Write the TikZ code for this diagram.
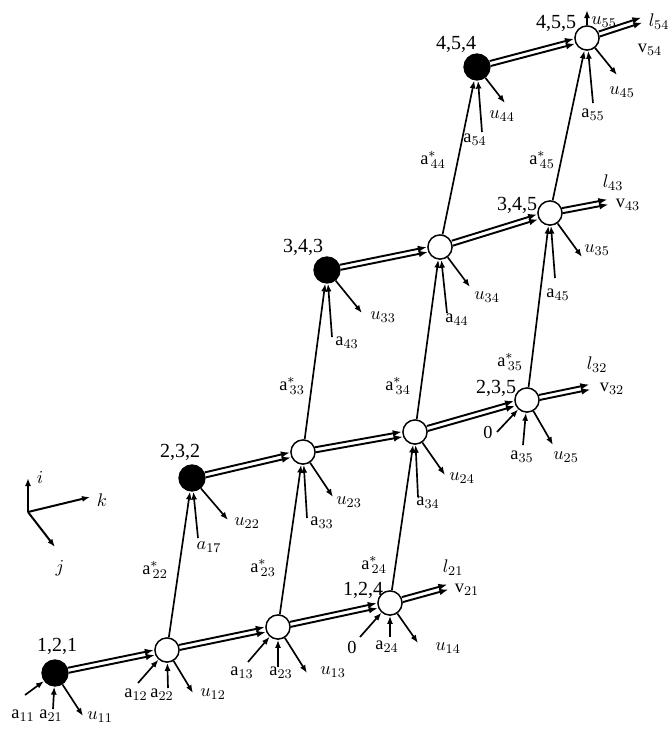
\documentclass[tikz,border=0pt]{standalone}
\usepackage{fontspec}
\setmainfont{Liberation Serif}
\usetikzlibrary{arrows.meta,positioning}

\begin{document}
\begin{tikzpicture}[
  x=0.6pt,y=-0.6pt,
  font=\fontsize{11}{13}\selectfont,
  state/.style={circle,draw,line width=0.9pt,fill=white,minimum size=14.5pt,inner sep=0pt},
  seed/.style={state,fill=black,minimum size=15.5pt},
  arr/.style={-{Latex[length=4.8pt,width=3.6pt]},line width=1pt},
  flow/.style={-{Latex[length=5.5pt,width=4pt]},line width=1.15pt},
  hi/.style={transform canvas={shift={(-0.3pt,1.5pt)}}},
  lo/.style={transform canvas={shift={(0.3pt,-1.5pt)}}},
  lab/.style={inner sep=0.5pt},
  tag/.style={inner sep=0.5pt,font=\fontsize{12}{14}\selectfont}
]
\useasboundingbox (0,0) rectangle (668,731);
% axes
\coordinate (ax0) at (28,512);
\coordinate (axi) at (28,478);
\coordinate (axk) at (90,497);
\coordinate (axj) at (55,547);
\draw[arr,line width=1.2pt] (ax0) -- (axi);
\draw[arr,line width=1.2pt] (ax0) -- (axk);
\draw[arr,line width=1.2pt] (ax0) -- (axj);
\node[lab] (li) at (40,477) {$i$};
\node[lab] (lk) at (102,500) {$k$};
\node[lab] (lj) at (60,568) {$j$};

% states
\node[seed] (n121) at (55,673) {};
\node[state] (n122) at (167,650) {};
\node[state] (n123) at (278,627) {};
\node[state] (n124) at (390,603) {};
\node[seed] (n232) at (192,478) {};
\node[state] (n233) at (303,452) {};
\node[state] (n234) at (415,432) {};
\node[state] (n235) at (527,400) {};
\node[seed] (n343) at (327,270) {};
\node[state] (n344) at (440,247) {};
\node[state] (n345) at (550,213) {};
\node[seed] (n454) at (477,67) {};
\node[state] (n455) at (587,38) {};

\node[tag] (t121) at (57,646) {1,2,1};
\node[tag] (t124) at (363,590) {1,2,4};
\node[tag] (t232) at (180,452) {2,3,2};
\node[tag] (t235) at (496,388) {2,3,5};
\node[tag] (t343) at (303,247) {3,4,3};
\node[tag] (t345) at (517,205) {3,4,5};
\node[tag] (t454) at (456,44) {4,5,4};
\node[tag] (t455) at (556,23) {4,5,5};

% flows along k
\draw[flow,hi] (n121) -- (n122); \draw[flow,lo] (n121) -- (n122);
\draw[flow,hi] (n122) -- (n123); \draw[flow,lo] (n122) -- (n123);
\draw[flow,hi] (n123) -- (n124); \draw[flow,lo] (n123) -- (n124);
\draw[flow,hi] (n232) -- (n233); \draw[flow,lo] (n232) -- (n233);
\draw[flow,hi] (n233) -- (n234); \draw[flow,lo] (n233) -- (n234);
\draw[flow,hi] (n234) -- (n235); \draw[flow,lo] (n234) -- (n235);
\draw[flow,hi] (n343) -- (n344); \draw[flow,lo] (n343) -- (n344);
\draw[flow,hi] (n344) -- (n345); \draw[flow,lo] (n344) -- (n345);
\draw[flow,hi] (n454) -- (n455); \draw[flow,lo] (n454) -- (n455);

% outputs
\coordinate (out124) at (448,587);
\coordinate (out235) at (590,387);
\coordinate (out345) at (608,202);
\coordinate (out455) at (642,20);
\draw[flow,hi] (n124) -- (out124); \draw[flow,lo] (n124) -- (out124);
\draw[flow,hi] (n235) -- (out235); \draw[flow,lo] (n235) -- (out235);
\draw[flow,hi] (n345) -- (out345); \draw[flow,lo] (n345) -- (out345);
\draw[flow,hi] (n455) -- (out455); \draw[flow,lo] (n455) -- (out455);
\node[lab] (l21) at (453,568) {$l_{21}$};
\node[lab] (v21) at (467,590) {v$_{21}$};
\node[lab] (l32) at (597,365) {$l_{32}$};
\node[lab] (v32) at (612,389) {v$_{32}$};
\node[lab] (l43) at (613,183) {$l_{43}$};
\node[lab] (v43) at (628,205) {v$_{43}$};
\node[lab] (l54) at (659,22) {$l_{54}$};
\node[lab] (v54) at (650,50) {v$_{54}$};

% transitions along i
\draw[arr] (n122) -- (n232);
\draw[arr] (n123) -- (n233);
\draw[arr] (n124) -- (n234);
\draw[arr] (n233) -- (n343);
\draw[arr] (n234) -- (n344);
\draw[arr] (n235) -- (n345);
\draw[arr] (n344) -- (n454);
\draw[arr] (n345) -- (n455);
\node[lab] (s22) at (155,570) {a$^{*}_{\,22}$};
\node[lab] (s23) at (263,568) {a$^{*}_{\,23}$};
\node[lab] (s24) at (374,565) {a$^{*}_{\,24}$};
\node[lab] (s33) at (292,386) {a$^{*}_{\,33}$};
\node[lab] (s34) at (398,386) {a$^{*}_{\,34}$};
\node[lab] (s35) at (510,362) {a$^{*}_{\,35}$};
\node[lab] (s44) at (433,160) {a$^{*}_{\,44}$};
\node[lab] (s45) at (542,160) {a$^{*}_{\,45}$};

% inputs and losses, row 1
\coordinate (d121) at (25,695);
\coordinate (v121) at (53,709);
\coordinate (o121) at (83,716);
\draw[arr] (d121) -- (n121);
\draw[arr] (v121) -- (n121);
\draw[arr] (n121) -- (o121);
\node[lab] (a11) at (23,716) {a$_{11}$};
\node[lab] (a21) at (51,716) {a$_{21}$};
\node[lab] (u11) at (100,717) {$u_{11}$};

\coordinate (d122) at (138,683);
\coordinate (v122) at (168,688);
\coordinate (o122) at (193,693);
\draw[arr] (d122) -- (n122);
\draw[arr] (v122) -- (n122);
\draw[arr] (n122) -- (o122);
\node[lab] (a12) at (136,695) {a$_{12}$};
\node[lab] (a22) at (162,695) {a$_{22}$};
\node[lab] (u12) at (213,694) {$u_{12}$};

\coordinate (d123) at (248,662);
\coordinate (v123) at (278,667);
\coordinate (o123) at (307,673);
\draw[arr] (d123) -- (n123);
\draw[arr] (v123) -- (n123);
\draw[arr] (n123) -- (o123);
\node[lab] (a13) at (242,673) {a$_{13}$};
\node[lab] (a23) at (281,673) {a$_{23}$};
\node[lab] (u13) at (333,672) {$u_{13}$};

\coordinate (d124) at (360,637);
\coordinate (v124) at (390,637);
\coordinate (o124) at (418,643);
\draw[arr] (d124) -- (n124);
\draw[arr] (v124) -- (n124);
\draw[arr] (n124) -- (o124);
\node[lab] (z124) at (352,647) {0};
\node[lab] (a24) at (387,647) {a$_{24}$};
\node[lab] (u14) at (448,648) {$u_{14}$};

% row 2
\coordinate (v232) at (198,538);
\coordinate (o232) at (228,520);
\draw[arr] (v232) -- (n232);
\draw[arr] (n232) -- (o232);
\node[lab] (a17) at (209,547) {$a_{17}$};
\node[lab] (u22) at (247,523) {$u_{22}$};

\coordinate (v233) at (307,518);
\coordinate (o233) at (333,497);
\draw[arr] (v233) -- (n233);
\draw[arr] (n233) -- (o233);
\node[lab] (a33) at (322,523) {a$_{33}$};
\node[lab] (u23) at (349,502) {$u_{23}$};

\coordinate (v234) at (418,497);
\coordinate (o234) at (445,475);
\draw[arr] (v234) -- (n234);
\draw[arr] (n234) -- (o234);
\node[lab] (a34) at (428,503) {a$_{34}$};
\node[lab] (u24) at (462,478) {$u_{24}$};

\coordinate (d235) at (497,432);
\coordinate (v235) at (523,445);
\coordinate (o235) at (553,445);
\draw[arr] (d235) -- (n235);
\draw[arr] (v235) -- (n235);
\draw[arr] (n235) -- (o235);
\node[lab] (z235) at (488,432) {0};
\node[lab] (a35) at (522,457) {a$_{35}$};
\node[lab] (u25) at (566,457) {$u_{25}$};

% row 3
\coordinate (v343) at (332,337);
\coordinate (o343) at (362,313);
\draw[arr] (v343) -- (n343);
\draw[arr] (n343) -- (o343);
\node[lab] (a43) at (347,343) {a$_{43}$};
\node[lab] (u33) at (383,317) {$u_{33}$};

\coordinate (v344) at (447,313);
\coordinate (o344) at (470,287);
\draw[arr] (v344) -- (n344);
\draw[arr] (n344) -- (o344);
\node[lab] (a44) at (457,320) {a$_{44}$};
\node[lab] (u34) at (487,297) {$u_{34}$};

\coordinate (v345) at (555,278);
\coordinate (o345) at (582,257);
\draw[arr] (v345) -- (n345);
\draw[arr] (n345) -- (o345);
\node[lab] (a45) at (558,295) {a$_{45}$};
\node[lab] (u35) at (597,250) {$u_{35}$};

% row 4
\coordinate (v454) at (482,132);
\coordinate (o454) at (505,103);
\draw[arr] (v454) -- (n454);
\draw[arr] (n454) -- (o454);
\node[lab] (a54) at (475,140) {a$_{54}$};
\node[lab] (u44) at (502,116) {$u_{44}$};

\coordinate (up455) at (587,10);
\coordinate (v455) at (593,103);
\coordinate (o455) at (617,75);
\draw[arr] (n455) -- (up455);
\draw[arr] (v455) -- (n455);
\draw[arr] (n455) -- (o455);
\node[lab] (u55) at (604,22) {$u_{55}$};
\node[lab] (a55) at (593,115) {a$_{55}$};
\node[lab] (u45) at (622,92) {$u_{45}$};
\end{tikzpicture}
\end{document}
